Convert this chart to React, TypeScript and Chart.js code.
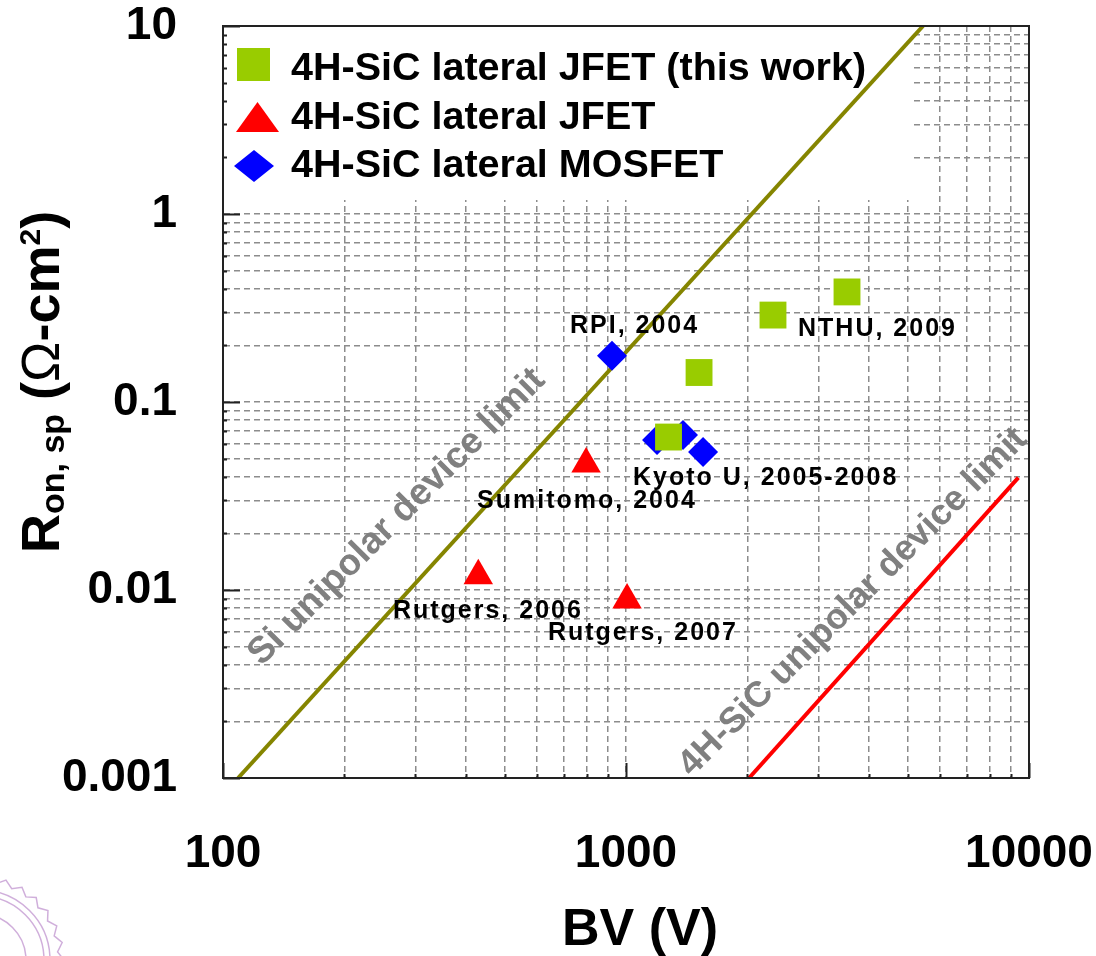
import React, { useEffect, useRef } from 'react';
import { Chart, registerables } from 'chart.js';

Chart.register(...registerables);

const FONT = '"Liberation Sans", Arial, Helvetica, sans-serif';

// ---- data ----
const thisWorkBV = [1275, 1518, 2316, 3535];
const thisWorkRon = [0.0651, 0.1435, 0.29, 0.385];
const lateralJfetBV = [796, 430, 1006];
const lateralJfetRon = [0.0468, 0.0119, 0.00885];
const lateralMosfetBV = [923, 1194, 1385, 1553];
const lateralMosfetRon = [0.176, 0.0628, 0.0668, 0.0542];
const siLimitBV = [109, 5458];
const siLimitRon = [0.001, 10];
const sicLimitBV = [2020, 9409];
const sicLimitRon = [0.001, 0.0396];

const seriesNames = [
  '4H-SiC lateral JFET (this work)',
  '4H-SiC lateral JFET',
  '4H-SiC lateral MOSFET',
];
const xTickLabels = [100, 1000, 10000];
const yTickLabels = [0.001, 0.01, 0.1, 1, 10];

const refLabels = ['RPI, 2004', 'NTHU, 2009', 'Kyoto U, 2005-2008', 'Sumitomo, 2004', 'Rutgers, 2006', 'Rutgers, 2007'];
const refLabelBV = [726, 2672, 1041, 427, 264, 640];
const refLabelRon = [0.2328, 0.2245, 0.0362, 0.0273, 0.0071, 0.00542];

const limitLabels = ['Si unipolar device limit', '4H-SiC unipolar device limit'];
const limitLabelBV = [270, 3660];
const limitLabelRon = [0.0244, 0.0086];
const limitLabelSize = [37, 36];

const xTitle = 'BV (V)';

// ---- styles ----
const GREEN = '#99cc00';
const RED = '#ff0000';
const BLUE = '#0000ff';
const OLIVE = '#858500';
const GRID = '#8c8c8c';
const LABEL_GRAY = '#808080';
const FRAME = '#222222';

const toXY = (xs: number[], ys: number[]) => xs.map((x, i) => ({ x, y: ys[i] }));

function logTicks(min: number, max: number) {
  const out: number[] = [];
  const e0 = Math.round(Math.log10(min));
  const e1 = Math.round(Math.log10(max));
  for (let e = e0; e < e1; e++) {
    for (let m = 1; m < 10; m++) out.push(parseFloat((m * Math.pow(10, e)).toPrecision(6)));
  }
  out.push(max);
  return out;
}

const isIn = (list: number[], v: number) => list.some((t) => Math.abs(t - v) / t < 1e-6);

const overlayPlugin = {
  id: 'overlay',
  beforeDatasetsDraw(chart: any) {
    const { ctx, chartArea: a, scales } = chart;
    const xs = scales.x;
    const ys = scales.y;
    ctx.save();
    // legend box
    ctx.fillStyle = '#ffffff';
    ctx.fillRect(a.left + 1, a.top + 1, 689, 173);

    // limit labels (rotated, gray)
    ctx.fillStyle = LABEL_GRAY;
    ctx.textAlign = 'center';
    ctx.textBaseline = 'middle';
    limitLabels.forEach((t, i) => {
      const px = xs.getPixelForValue(limitLabelBV[i]);
      const py = ys.getPixelForValue(limitLabelRon[i]);
      ctx.save();
      ctx.font = `bold ${limitLabelSize[i]}px ${FONT}`;
      ctx.translate(px, py);
      ctx.rotate(-Math.PI / 4);
      ctx.fillText(t, 0, 0);
      ctx.restore();
    });

    // legend markers
    const lx = a.left;
    const ly = a.top;
    ctx.fillStyle = GREEN;
    ctx.fillRect(lx + 14, ly + 22, 33, 33);
    ctx.fillStyle = RED;
    ctx.beginPath();
    ctx.moveTo(lx + 34.5, ly + 76);
    ctx.lineTo(lx + 56, ly + 106);
    ctx.lineTo(lx + 13, ly + 106);
    ctx.closePath();
    ctx.fill();
    ctx.fillStyle = BLUE;
    ctx.beginPath();
    ctx.moveTo(lx + 31, ly + 124);
    ctx.lineTo(lx + 51, ly + 140);
    ctx.lineTo(lx + 31, ly + 156);
    ctx.lineTo(lx + 11, ly + 140);
    ctx.closePath();
    ctx.fill();

    ctx.fillStyle = '#000';
    ctx.font = `bold 39.5px ${FONT}`;
    ctx.textAlign = 'left';
    ctx.textBaseline = 'alphabetic';
    const baselines = [54, 103, 151];
    seriesNames.forEach((n, i) => ctx.fillText(n, lx + 68, ly + baselines[i]));
    ctx.restore();
  },
  afterDatasetsDraw(chart: any) {
    const { ctx, chartArea: a, scales } = chart;
    const xs = scales.x;
    const ys = scales.y;
    ctx.save();
    // reference labels
    ctx.fillStyle = '#000';
    ctx.font = `bold 25px ${FONT}`;
    ctx.textAlign = 'left';
    ctx.textBaseline = 'alphabetic';
    (ctx as any).letterSpacing = '2px';
    refLabels.forEach((t, i) => {
      ctx.fillText(t, xs.getPixelForValue(refLabelBV[i]), ys.getPixelForValue(refLabelRon[i]));
    });
    (ctx as any).letterSpacing = '0px';

    // inward ticks
    ctx.strokeStyle = FRAME;
    ctx.lineWidth = 2;
    ctx.beginPath();
    ys.ticks.forEach((t: any) => {
      const p = Math.round(ys.getPixelForValue(t.value)) + 0.5;
      const len = isIn(yTickLabels, t.value) ? 17 : 4;
      ctx.moveTo(a.left, p);
      ctx.lineTo(a.left + len, p);
    });
    xs.ticks.forEach((t: any) => {
      const p = Math.round(xs.getPixelForValue(t.value)) + 0.5;
      const len = isIn(xTickLabels, t.value) ? 15 : 4;
      ctx.moveTo(p, a.bottom);
      ctx.lineTo(p, a.bottom - len);
    });
    ctx.stroke();
    // frame
    ctx.strokeRect(a.left, a.top, a.right - a.left, a.bottom - a.top);
    ctx.restore();
  },
  afterDraw(chart: any) {
    const { ctx, chartArea: a } = chart;
    ctx.save();
    ctx.fillStyle = '#000';
    // x title
    ctx.font = `bold 52px ${FONT}`;
    ctx.textAlign = 'center';
    ctx.textBaseline = 'alphabetic';
    ctx.fillText(xTitle, (a.left + a.right) / 2 + 14, 945);

    // y title with sub/superscripts
    ctx.translate(59, 553);
    ctx.rotate(-Math.PI / 2);
    ctx.textAlign = 'left';
    let x = 0;
    const part = (txt: string, font: string, dy: number, gapAfter = 0) => {
      ctx.font = font;
      ctx.fillText(txt, x, dy);
      x += ctx.measureText(txt).width + gapAfter;
    };
    part('R', `bold 54px ${FONT}`, 0);
    part('on, sp', `bold 34px ${FONT}`, 5, 14);
    part('(', `bold 54px ${FONT}`, 0);
    part('\u03A9', `54px ${FONT}`, 0);
    part('-cm', `bold 54px ${FONT}`, 0);
    part('2', `bold 30px ${FONT}`, -19);
    part(')', `bold 54px ${FONT}`, 0);
    ctx.restore();

    // faint seal in the lower-left corner
    ctx.save();
    ctx.strokeStyle = 'rgba(170, 110, 190, 0.55)';
    ctx.lineWidth = 1.5;
    const cx = -20;
    const cy = 960;
    ctx.beginPath();
    const n = 60;
    for (let i = 0; i <= n; i++) {
      const ang = (i / n) * Math.PI * 2;
      const r = i % 2 === 0 ? 84 : 78;
      const px = cx + r * Math.cos(ang);
      const py = cy + r * Math.sin(ang);
      if (i === 0) ctx.moveTo(px, py);
      else ctx.lineTo(px, py);
    }
    ctx.stroke();
    [70, 64, 46].forEach((r) => {
      ctx.beginPath();
      ctx.arc(cx, cy, r, 0, Math.PI * 2);
      ctx.stroke();
    });
    ctx.restore();
  },
};

export default function App() {
  const canvasRef = useRef<HTMLCanvasElement | null>(null);

  useEffect(() => {
    const canvas = canvasRef.current;
    if (!canvas) return;
    const tickFont = { family: FONT, size: 46, weight: 'bold' as const, lineHeight: 1 };
    const chart = new Chart(canvas, {
      type: 'scatter',
      data: {
        datasets: [
          {
            label: seriesNames[0],
            data: toXY(thisWorkBV, thisWorkRon),
            pointStyle: 'rect',
            pointRadius: 19,
            backgroundColor: GREEN,
            borderWidth: 0,
            order: 0,
          },
          {
            label: seriesNames[1],
            data: toXY(lateralJfetBV, lateralJfetRon),
            pointStyle: 'triangle',
            pointRadius: 17,
            backgroundColor: RED,
            borderWidth: 0,
            order: 1,
          },
          {
            label: seriesNames[2],
            data: toXY(lateralMosfetBV, lateralMosfetRon),
            pointStyle: 'rectRot',
            pointRadius: 15,
            backgroundColor: BLUE,
            borderWidth: 0,
            order: 2,
          },
          {
            label: 'Si unipolar device limit',
            data: toXY(siLimitBV, siLimitRon),
            showLine: true,
            pointRadius: 0,
            borderColor: OLIVE,
            borderWidth: 4,
            order: 3,
          },
          {
            label: '4H-SiC unipolar device limit',
            data: toXY(sicLimitBV, sicLimitRon),
            showLine: true,
            pointRadius: 0,
            borderColor: RED,
            borderWidth: 4,
            order: 3,
          },
        ],
      },
      options: {
        responsive: false,
        maintainAspectRatio: false,
        animation: false,
        devicePixelRatio: 1,
        layout: { padding: { top: 26, right: 67, left: 0, bottom: 0 } },
        plugins: {
          legend: { display: false },
          tooltip: { enabled: false },
        },
        scales: {
          x: {
            type: 'logarithmic',
            position: 'bottom',
            min: 100,
            max: 10000,
            afterBuildTicks: (scale: any) => {
              scale.ticks = logTicks(100, 10000).map((v) => ({ value: v }));
            },
            afterFit: (scale: any) => {
              scale.height = 178;
            },
            ticks: {
              autoSkip: false,
              maxRotation: 0,
              minRotation: 0,
              padding: 2,
              color: '#000',
              font: tickFont,
              callback: (value: any) => (isIn(xTickLabels, Number(value)) ? String(Number(value)) : ''),
            },
            grid: { color: GRID, lineWidth: 1.5, drawTicks: true, tickLength: 51, tickWidth: 0, tickColor: 'rgba(0,0,0,0)' },
            border: { display: true, color: FRAME, width: 2, dash: [6, 4] },
          },
          y: {
            type: 'logarithmic',
            position: 'left',
            min: 0.001,
            max: 10,
            afterBuildTicks: (scale: any) => {
              scale.ticks = logTicks(0.001, 10).map((v) => ({ value: v }));
            },
            afterFit: (scale: any) => {
              scale.width = 223;
            },
            ticks: {
              autoSkip: false,
              padding: 3,
              color: '#000',
              font: tickFont,
              callback: (value: any) => (isIn(yTickLabels, Number(value)) ? String(Number(value)) : ''),
            },
            grid: { color: GRID, lineWidth: 1.5, drawTicks: true, tickLength: 43, tickWidth: 0, tickColor: 'rgba(0,0,0,0)' },
            border: { display: true, color: FRAME, width: 2, dash: [6, 4] },
          },
        },
      },
      plugins: [overlayPlugin],
    } as any);
    return () => chart.destroy();
  }, []);

  return (
    <div style={{ position: 'fixed', left: 0, top: 0, width: 1096, height: 956, background: '#fff' }}>
      <canvas ref={canvasRef} width={1096} height={956} style={{ display: 'block', width: 1096, height: 956 }} />
    </div>
  );
}
